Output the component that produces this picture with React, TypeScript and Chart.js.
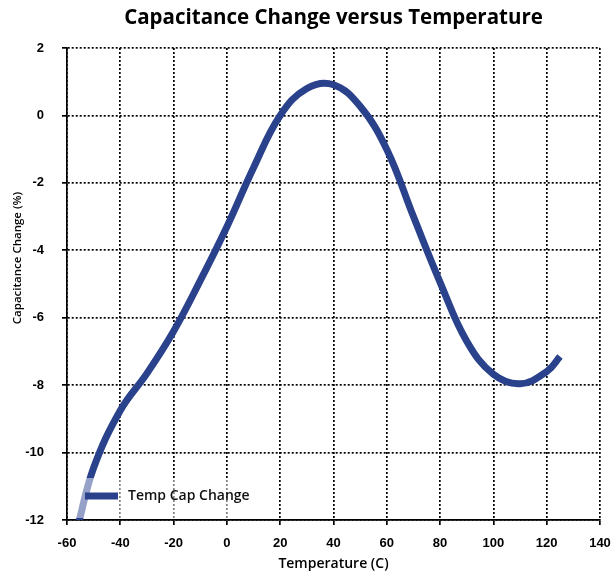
import React, { useEffect, useRef } from "react";
import { Chart, registerables } from "chart.js";

Chart.register(...registerables);

const temperatures = [-56, -50, -40, -30, -20, -10, 0, 10, 20, 30, 40, 50, 60, 70, 80, 90, 100, 110, 120, 125];
const capChange = [-12.2, -10.45, -8.75, -7.65, -6.4, -4.9, -3.3, -1.55, 0.0, 0.8, 0.91, 0.27, -1.01, -3.0, -4.95, -6.7, -7.68, -7.96, -7.6, -7.15];
const seriesName = "Temp Cap Change";
const chartTitle = "Capacitance Change versus Temperature";
const xTitle = "Temperature (C)";
const yTitle = "Capacitance Change (%)";

const LINE_COLOR = "#2a428c";
const TITLE_FONT = "'Open Sans'";
const TICK_FONT = "'Liberation Sans', Arial, sans-serif";

const textPlugin = {
  id: "customTexts",
  afterDraw(chart: any) {
    const { ctx, chartArea } = chart;
    ctx.save();
    ctx.fillStyle = "#000";
    ctx.textAlign = "center";
    ctx.textBaseline = "middle";
    ctx.font = `bold 20.5px ${TITLE_FONT}`;
    ctx.fillText(chartTitle, (chartArea.left + chartArea.right) / 2, 18);
    ctx.translate(18, 258);
    ctx.rotate(-Math.PI / 2);
    ctx.font = `600 11.5px ${TITLE_FONT}`;
    ctx.fillText(yTitle, 0, 0);
    ctx.restore();
  },
};

const legendPlugin = {
  id: "insideLegend",
  afterDatasetsDraw(chart: any) {
    const { ctx, chartArea } = chart;
    const left = chartArea.left + 3;
    const top = chartArea.bottom - 42;
    ctx.save();
    ctx.fillStyle = "rgba(255,255,255,0.5)";
    ctx.fillRect(left, top, 195, 40);
    ctx.strokeStyle = LINE_COLOR;
    ctx.lineWidth = 7;
    ctx.lineCap = "butt";
    ctx.beginPath();
    ctx.moveTo(left + 15, top + 18);
    ctx.lineTo(left + 48, top + 18);
    ctx.stroke();
    ctx.fillStyle = "#111";
    ctx.font = `600 14px ${TITLE_FONT}`;
    ctx.textBaseline = "middle";
    ctx.textAlign = "left";
    ctx.fillText(seriesName, left + 58, top + 18);
    ctx.restore();
  },
};

export default function App() {
  const ref = useRef<HTMLCanvasElement | null>(null);
  useEffect(() => {
    if (!ref.current) return;
    const points = temperatures.map((t, i) => ({ x: t, y: capChange[i] }));
    const gridCommon = {
      color: "#000",
      lineWidth: 1.7,
      tickLength: 5,
      tickColor: "#000",
    };
    const chart = new Chart(ref.current, {
      type: "line",
      data: {
        datasets: [
          {
            label: seriesName,
            data: points,
            borderColor: LINE_COLOR,
            backgroundColor: LINE_COLOR,
            borderWidth: 7,
            pointRadius: 0,
            tension: 0.4,
            borderCapStyle: "butt",
            fill: false,
          },
        ],
      },
      options: {
        responsive: false,
        animation: false,
        layout: { padding: { left: 0, right: 0, top: 48, bottom: 0 } },
        plugins: {
          legend: { display: false },
          tooltip: { enabled: false },
          title: { display: false },
        },
        scales: {
          x: {
            type: "linear",
            min: -60,
            max: 140,
            ticks: {
              stepSize: 20,
              color: "#000",
              padding: 11,
              font: { family: TICK_FONT, size: 13, weight: "bold" },
            },
            grid: { ...gridCommon },
            border: { display: true, color: "#000", width: 1.7, dash: [2, 2] },
            title: {
              display: true,
              text: xTitle,
              color: "#000",
              font: { family: TITLE_FONT, size: 14, weight: "600" },
              padding: { top: 6, bottom: 6 },
            },
            afterFit: (s: any) => {
              s.height = 58;
              s.paddingRight = 13;
              s.paddingLeft = 0;
            },
          },
          y: {
            type: "linear",
            min: -12,
            max: 2,
            ticks: {
              stepSize: 2,
              color: "#000",
              padding: 18,
              font: { family: TICK_FONT, size: 13, weight: "bold" },
            },
            grid: { ...gridCommon },
            border: { display: true, color: "#000", width: 1.7, dash: [2, 2] },
            title: { display: false },
            afterFit: (s: any) => {
              s.width = 67;
              s.paddingTop = 0;
            },
          },
        },
      } as any,
      plugins: [legendPlugin, textPlugin, {
        id: "dashGrid",
        beforeDraw(chart: any) {
          ["x", "y"].forEach((k) => {
            const sc = chart.scales[k];
            if (sc && sc.options && sc.options.grid) {
              sc.options.grid.borderDash = [2, 2];
            }
          });
        },
      }],
    });
    return () => chart.destroy();
  }, []);

  return (
    <div style={{ position: "fixed", left: 0, top: 0, width: 613, height: 578, background: "#fff" }}>
      <canvas ref={ref} width={613} height={578} style={{ display: "block" }} />
    </div>
  );
}
